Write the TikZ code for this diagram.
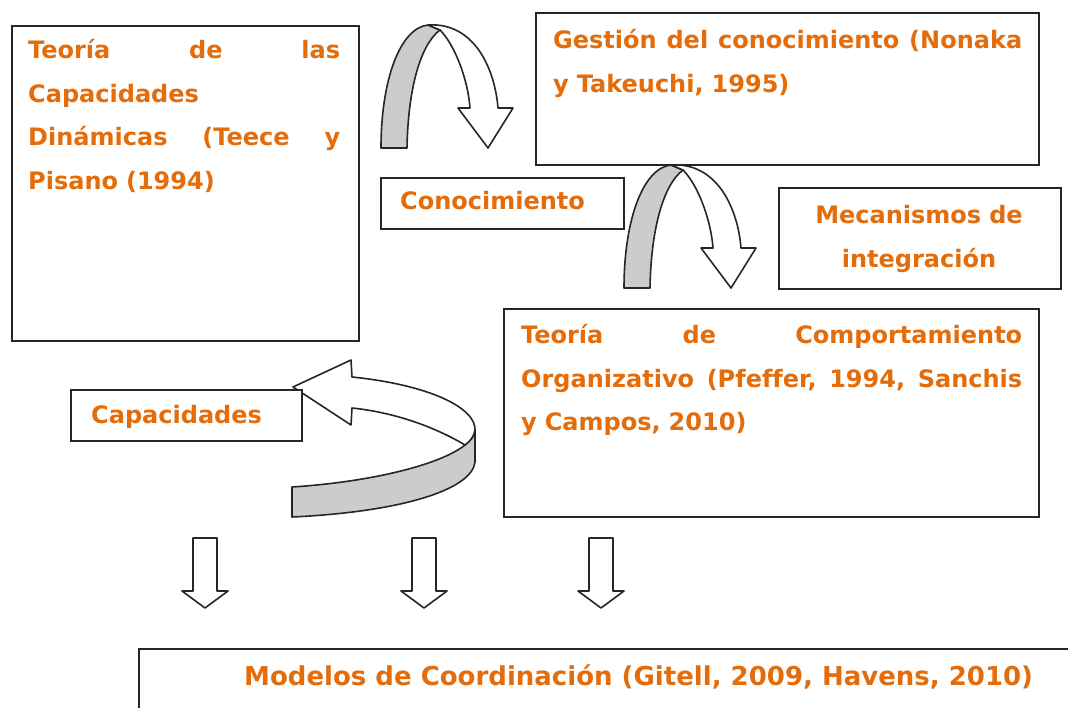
\documentclass[tikz,border=0pt]{standalone}
\usepackage{fontspec}
\setmainfont{DejaVu Sans}[Ligatures=NoCommon]
\usetikzlibrary{positioning}
\definecolor{orangetxt}{RGB}{228,108,10}
\definecolor{ribbongray}{RGB}{204,204,204}
\tikzset{
  box/.style={draw=black!85, line width=1.8pt, fill=white, anchor=north west, inner sep=0pt},
  txt/.style={text=orangetxt, font=\fontsize{24}{43.5}\selectfont\bfseries, inner sep=0pt, anchor=base west},
  ribbon/.style={draw=black!85, line width=1.6pt, line join=round},
}
\newcommand{\archarrow}[1]{%
  \begin{scope}[shift={#1}]
    \draw[ribbon, fill=ribbongray] (0,0) .. controls (0,-68) and (19,-120) .. (47,-123)
      -- (59,-118) .. controls (39,-103) and (27,-58) .. (26,0) -- cycle;
    \draw[ribbon, fill=white] (47,-123) .. controls (94,-126) and (114,-78) .. (117,-40)
      -- (132,-40) -- (107,0) -- (77,-40) -- (89,-40)
      .. controls (87,-68) and (74,-103) .. (59,-118) -- cycle;
  \end{scope}}

\begin{document}
\begin{tikzpicture}[x=1pt, y=-1pt]
    \useasboundingbox[fill=white] (0,0) rectangle (1068,708);

    % Curved arrows
    \archarrow{(381,148)}
    \archarrow{(624,288)}
    \draw[ribbon, fill=ribbongray] (292,487) .. controls (370,482) and (440,465) .. (465,445)
        .. controls (470,441) and (475,436) .. (475,430) -- (475,462)
        .. controls (472,490) and (400,512) .. (292,517) -- cycle;
    \draw[ribbon, fill=white] (293,387) -- (351,360) -- (352,377)
        .. controls (430,385) and (476,408) .. (475,430)
        .. controls (474,437) and (470,441) .. (465,445)
        .. controls (440,430) and (400,413) .. (352,408) -- (351,425) -- cycle;

    % Down arrows
    \foreach \x in {205,424,601}
        \draw[ribbon, fill=white] (\x-12,538) -- (\x+12,538) -- (\x+12,591) -- (\x+23,591)
            -- (\x,608) -- (\x-23,591) -- (\x-12,591) -- cycle;

    % Boxes
    \node[box, minimum width=347pt, minimum height=315pt] (teece) at (11,25) {};
    \node[box, minimum width=503pt, minimum height=152pt] (nonaka) at (535,12) {};
    \node[box, minimum width=243pt, minimum height=51pt] (conoc) at (380,177) {};
    \node[box, minimum width=282pt, minimum height=101pt] (mecan) at (778,187) {};
    \node[box, minimum width=535pt, minimum height=208pt] (pfeffer) at (503,308) {};
    \node[box, minimum width=231pt, minimum height=51pt] (capac) at (70,389) {};
    \node[box, minimum width=960pt, minimum height=100pt] (gitell) at (138,648) {};

    % Texts
    \node[txt, text width=312pt] (teecetxt) at (28,59)
        {Teoría\hfill de\hfill las\\ Capacidades\\ Dinámicas\hfill (Teece\hfill y\\ Pisano (1994)};
    \node[txt, text width=469pt] (nonakatxt) at (553,49)
        {Gestión\hfill del\hfill conocimiento\hfill (Nonaka\\ y Takeuchi, 1995)};
    \node[txt] (conoctxt) at (400,210) {Conocimiento};
    \node[txt, text width=282pt, align=center, anchor=base] (mecantxt) at (919,224)
        {Mecanismos de\\ integración};
    \node[txt, text width=501pt] (pfeffertxt) at (521,344)
        {Teoría\hfill de\hfill Comportamiento\\ Organizativo\hfill (Pfeffer,\hfill 1994,\hfill Sanchis\\ y Campos, 2010)};
    \node[txt] (capactxt) at (91,423) {Capacidades};
    \node[txt, font=\fontsize{26}{30}\selectfont\bfseries] (gitelltxt) at (244,685)
        {Modelos de Coordinación (Gitell, 2009, Havens, 2010)};
\end{tikzpicture}
\end{document}
